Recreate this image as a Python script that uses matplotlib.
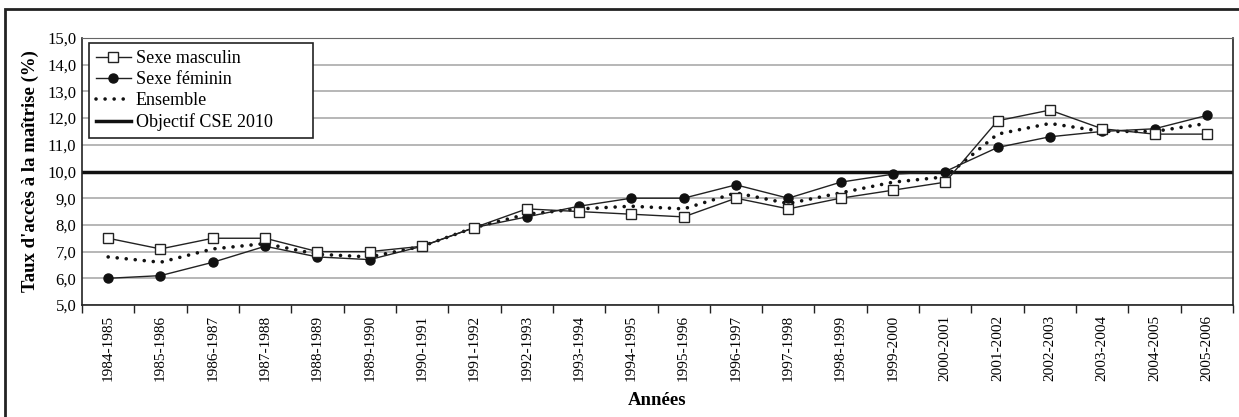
import numpy as np
import matplotlib.pyplot as plt
from matplotlib.patches import Rectangle

# Donnees
annees = ['1984-1985', '1985-1986', '1986-1987', '1987-1988', '1988-1989', '1989-1990',
          '1990-1991', '1991-1992', '1992-1993', '1993-1994', '1994-1995', '1995-1996',
          '1996-1997', '1997-1998', '1998-1999', '1999-2000', '2000-2001', '2001-2002',
          '2002-2003', '2003-2004', '2004-2005', '2005-2006']
masculin = [7.5, 7.1, 7.5, 7.5, 7.0, 7.0, 7.2, 7.9, 8.6, 8.5, 8.4, 8.3,
            9.0, 8.6, 9.0, 9.3, 9.6, 11.9, 12.3, 11.6, 11.4, 11.4]
feminin = [6.0, 6.1, 6.6, 7.2, 6.8, 6.7, 7.2, 7.9, 8.3, 8.7, 9.0, 9.0,
           9.5, 9.0, 9.6, 9.9, 10.0, 10.9, 11.3, 11.5, 11.6, 12.1]
ensemble = [6.8, 6.6, 7.1, 7.3, 6.9, 6.8, 7.2, 7.9, 8.4, 8.6, 8.7, 8.6,
            9.2, 8.8, 9.2, 9.6, 9.8, 11.4, 11.8, 11.5, 11.5, 11.8]
objectif = 10.0
y_ticks = [5, 6, 7, 8, 9, 10, 11, 12, 13, 14, 15]

plt.rcParams['font.family'] = ['Liberation Serif', 'DejaVu Serif']

fig = plt.figure(figsize=(12.39, 4.17), dpi=100)
ax = fig.add_axes([82 / 1239, 1 - 305 / 417, (1233 - 82) / 1239, (305 - 38) / 417])

# cadre exterieur
fig.patches.append(Rectangle((5 / 1239, -0.05), 1.1, 1 - 9 / 417 + 0.05,
                             transform=fig.transFigure, fill=False,
                             edgecolor='#222222', linewidth=2))

x = np.arange(len(annees))

for v in y_ticks:
    ax.axhline(v, color='#666666' if v == 15 else '#aaaaaa', linewidth=1.2, zorder=1)

ax.axhline(objectif, color='#111111', linewidth=2.5, zorder=2, label='Objectif CSE 2010')
ax.plot(x, ensemble, linestyle=(0, (0.01, 2.5)), color='#111111', linewidth=2.6,
        dash_capstyle='round', solid_capstyle='round', zorder=3, label='Ensemble')
ax.plot(x, feminin, color='#222222', linewidth=1, marker='o', markersize=6.5,
        markerfacecolor='#111111', markeredgecolor='#111111', zorder=4, label='Sexe féminin')
ax.plot(x, masculin, color='#222222', linewidth=1, marker='s', markersize=6.5,
        markerfacecolor='white', markeredgecolor='#222222', markeredgewidth=1,
        zorder=5, label='Sexe masculin')

ax.set_xlim(-0.5, len(annees) - 0.5)
ax.set_ylim(5, 15)
ax.set_yticks(y_ticks)
ax.set_yticklabels([f'{v},0' for v in y_ticks], fontsize=12)
ax.set_xticks(x)
ax.set_xticklabels(annees, rotation=90, fontsize=11)
ax.tick_params(axis='x', which='major', length=0, pad=7)
ax.set_xticks(np.arange(len(annees) + 1) - 0.5, minor=True)
ax.tick_params(axis='x', which='minor', length=6, width=1, color='#222222', direction='out')
ax.tick_params(axis='y', length=0, pad=4)

for s in ['left', 'bottom', 'right']:
    ax.spines[s].set_color('#222222')
    ax.spines[s].set_linewidth(1.2)
ax.spines['top'].set_color('#666666')

ax.set_xlabel('Années', fontsize=13.5, fontweight='bold', labelpad=8)
ax.set_ylabel("Taux d'accès à la maîtrise (%)", fontsize=13.5, fontweight='bold', labelpad=6)

h, l = ax.get_legend_handles_labels()
order = [3, 2, 1, 0]
leg = ax.legend([h[i] for i in order], [l[i] for i in order], loc='upper left',
                bbox_to_anchor=(7 / 1151, 1 - 5 / 267 - 0.3, 224 / 1151, 0.3),
                mode='expand', borderaxespad=0, fontsize=13, frameon=True,
                fancybox=False, edgecolor='#222222', framealpha=1, borderpad=0.4,
                labelspacing=0.22, handlelength=1.9, handletextpad=0.3)
leg.get_frame().set_linewidth(1.2)

fig.savefig('out.png', dpi=100)
